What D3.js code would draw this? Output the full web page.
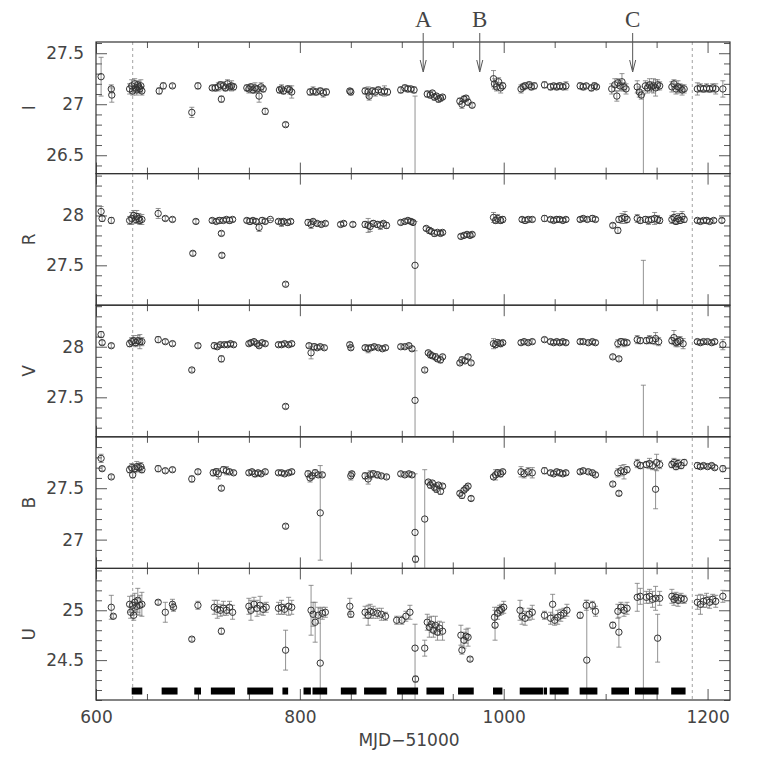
<!DOCTYPE html>
<html>
<head>
<meta charset="utf-8">
<script src="https://cdn.jsdelivr.net/npm/d3@7/dist/d3.min.js"></script>
<style>
body { margin: 0; background: #fff; }
svg text { font-family: "DejaVu Sans", sans-serif; fill: #444; }
.tick text { font-size: 17px; }
</style>
</head>
<body>
<script>
// band names, top to bottom
var bands = ["I", "R", "V", "B", "U"];
// y domain of each panel (mag)
var yDomains = [[26.32, 27.61], [27.10, 28.42], [27.11, 28.41], [26.72, 28.00], [24.10, 25.42]];
var yTickLabels = [[26.5, 27, 27.5], [27.5, 28], [27.5, 28], [27, 27.5], [24.5, 25]];
var xDomain = [600, 1222];
var xTickLabels = [600, 800, 1000, 1200];

// [MJD-51000, mag, err (up), err down (optional)]
var dataI = [
  [605, 27.27, 0.19], [615, 27.15, 0.04], [615.5, 27.09, 0.07],
  [633, 27.15, 0.05], [635, 27.18, 0.06], [636, 27.13, 0.04], [638, 27.20, 0.05], [639, 27.16, 0.04], [640, 27.14, 0.05], [641, 27.19, 0.04], [642, 27.17, 0.05], [643, 27.15, 0.04], [644, 27.18, 0.06], [645, 27.13, 0.04],
  [662, 27.13, 0.03], [666, 27.18, 0.03], [675, 27.18, 0.02],
  [694, 26.92, 0.05], [700, 27.18, 0.03],
  [714, 27.16, 0.02], [717, 27.16, 0.03], [720, 27.17, 0.04], [722, 27.19, 0.03], [723, 27.05, 0.03], [725, 27.18, 0.04], [727, 27.16, 0.03], [729, 27.20, 0.04], [731, 27.17, 0.03], [733, 27.18, 0.05], [735, 27.17, 0.03],
  [748, 27.16, 0.03], [750, 27.15, 0.04], [752, 27.17, 0.03], [754, 27.14, 0.03], [756, 27.16, 0.05], [758, 27.15, 0.03], [760, 27.08, 0.06], [762, 27.17, 0.04], [764, 27.15, 0.03], [766, 26.93, 0.03],
  [780, 27.14, 0.03], [782, 27.15, 0.04], [784, 27.13, 0.03], [786, 26.80, 0.02], [788, 27.15, 0.03], [790, 27.14, 0.04], [792, 27.12, 0.06],
  [810, 27.12, 0.03], [813, 27.13, 0.04], [816, 27.12, 0.03], [820, 27.13, 0.03], [823, 27.11, 0.04], [826, 27.12, 0.03],
  [849, 27.13, 0.02], [850, 27.12, 0.03],
  [864, 27.13, 0.03], [867, 27.12, 0.05], [868, 27.08, 0.04], [871, 27.13, 0.03], [874, 27.12, 0.04], [877, 27.14, 0.03], [880, 27.12, 0.03], [883, 27.13, 0.05], [886, 27.12, 0.03],
  [899, 27.14, 0.03], [903, 27.16, 0.03], [906, 27.15, 0.03], [909, 27.15, 0.02], [912, 27.14, 0.03],
  [913, 26.00, 1.08],
  [925, 27.10, 0.03], [928, 27.09, 0.03], [930, 27.11, 0.02], [932, 27.07, 0.03], [934, 27.08, 0.02], [936, 27.05, 0.03], [938, 27.06, 0.03], [940, 27.07, 0.02],
  [957, 27.03, 0.03], [959, 27.00, 0.04], [961, 27.05, 0.03], [963, 27.06, 0.02], [965, 27.02, 0.03], [969, 26.99, 0.02],
  [990, 27.25, 0.08], [991, 27.20, 0.05], [993, 27.17, 0.04], [995, 27.22, 0.04], [997, 27.16, 0.05], [999, 27.18, 0.03],
  [1017, 27.15, 0.04], [1019, 27.17, 0.03], [1021, 27.18, 0.03], [1025, 27.19, 0.03], [1027, 27.17, 0.03], [1030, 27.18, 0.03],
  [1040, 27.19, 0.03],
  [1046, 27.17, 0.03], [1049, 27.18, 0.02], [1052, 27.17, 0.03], [1055, 27.18, 0.03], [1058, 27.17, 0.02], [1061, 27.18, 0.04],
  [1075, 27.18, 0.03], [1078, 27.17, 0.03], [1081, 27.18, 0.02], [1086, 27.16, 0.03], [1089, 27.18, 0.03], [1091, 27.17, 0.02],
  [1106, 27.15, 0.05], [1109, 27.19, 0.06], [1111, 27.08, 0.05], [1112, 27.21, 0.04], [1114, 27.18, 0.05], [1116, 27.22, 0.08], [1118, 27.17, 0.04], [1120, 27.15, 0.05],
  [1131, 27.17, 0.06], [1133, 27.12, 0.05], [1135, 27.09, 0.04], [1137, 26.00, 1.10], [1139, 27.18, 0.05], [1141, 27.16, 0.05], [1143, 27.19, 0.06], [1145, 27.17, 0.05], [1147, 27.18, 0.07], [1149, 27.16, 0.08], [1151, 27.19, 0.05], [1153, 27.18, 0.04],
  [1165, 27.17, 0.05], [1167, 27.20, 0.04], [1169, 27.15, 0.05], [1171, 27.17, 0.06], [1173, 27.16, 0.04], [1175, 27.14, 0.05], [1177, 27.15, 0.04],
  [1190, 27.15, 0.06], [1193, 27.16, 0.04], [1196, 27.15, 0.03], [1199, 27.16, 0.04], [1202, 27.15, 0.03], [1205, 27.16, 0.04], [1208, 27.15, 0.05],
  [1215, 27.15, 0.08]
];

var dataR = [
  [605, 28.04, 0.05], [606, 27.97, 0.03], [615, 27.95, 0.03],
  [633, 27.95, 0.04], [635, 27.97, 0.06], [637, 28.00, 0.05], [639, 27.96, 0.04], [640, 27.99, 0.06], [642, 27.97, 0.05], [643, 27.95, 0.04], [645, 27.96, 0.05],
  [661, 28.02, 0.05], [668, 27.97, 0.02], [675, 27.96, 0.02],
  [695, 27.62, 0.02], [698, 27.94, 0.02],
  [714, 27.95, 0.02], [718, 27.94, 0.02], [721, 27.95, 0.03], [723, 27.82, 0.02], [723.5, 27.60, 0.02], [725, 27.95, 0.02], [728, 27.96, 0.02], [731, 27.95, 0.03], [734, 27.96, 0.02],
  [748, 27.95, 0.02], [751, 27.94, 0.03], [754, 27.95, 0.02], [757, 27.94, 0.02], [760, 27.88, 0.04], [763, 27.95, 0.03], [766, 27.94, 0.02], [771, 27.96, 0.01],
  [779, 27.94, 0.02], [782, 27.93, 0.04], [784, 27.94, 0.02], [786, 27.31, 0.02], [788, 27.93, 0.03], [791, 27.94, 0.02],
  [808, 27.93, 0.03], [811, 27.91, 0.04], [813, 27.94, 0.02], [817, 27.92, 0.02], [821, 27.91, 0.02], [825, 27.92, 0.02],
  [840, 27.91, 0.02], [843, 27.92, 0.02], [852, 27.91, 0.02],
  [864, 27.91, 0.03], [867, 27.90, 0.07], [869, 27.89, 0.05], [872, 27.92, 0.03], [876, 27.91, 0.03], [879, 27.90, 0.04], [882, 27.92, 0.02], [885, 27.90, 0.03],
  [899, 27.93, 0.02], [903, 27.94, 0.02], [906, 27.95, 0.02], [909, 27.94, 0.02], [911, 27.93, 0.02],
  [913, 27.50, 0.44, 0.60],
  [924, 27.87, 0.02], [927, 27.85, 0.03], [929, 27.84, 0.02], [932, 27.82, 0.03], [935, 27.83, 0.02], [938, 27.82, 0.02], [940, 27.83, 0.02],
  [958, 27.79, 0.02], [961, 27.80, 0.02], [964, 27.81, 0.02], [967, 27.80, 0.02], [969, 27.81, 0.02],
  [990, 27.98, 0.05], [992, 27.95, 0.03], [994, 27.97, 0.04], [997, 27.95, 0.03], [999, 27.96, 0.03],
  [1018, 27.96, 0.02], [1021, 27.95, 0.03], [1024, 27.96, 0.02], [1028, 27.96, 0.02],
  [1040, 27.97, 0.03],
  [1046, 27.96, 0.02], [1049, 27.95, 0.02], [1052, 27.96, 0.03], [1055, 27.96, 0.02], [1058, 27.95, 0.02], [1061, 27.96, 0.02],
  [1075, 27.96, 0.02], [1078, 27.97, 0.02], [1082, 27.96, 0.02], [1087, 27.97, 0.03], [1090, 27.96, 0.02],
  [1107, 27.90, 0.02], [1112, 27.85, 0.03], [1113, 27.96, 0.03], [1116, 27.97, 0.05], [1119, 27.98, 0.06], [1121, 27.96, 0.03],
  [1131, 27.97, 0.04], [1134, 27.95, 0.03], [1137, 26.90, 0.65], [1139, 27.96, 0.03], [1142, 27.95, 0.04], [1145, 27.96, 0.03], [1148, 27.97, 0.06], [1151, 27.96, 0.04], [1153, 27.95, 0.03],
  [1165, 27.96, 0.04], [1167, 27.98, 0.06], [1169, 27.94, 0.03], [1171, 27.97, 0.05], [1173, 27.95, 0.03], [1175, 27.99, 0.05], [1177, 27.96, 0.03],
  [1190, 27.95, 0.02], [1193, 27.94, 0.02], [1196, 27.95, 0.02], [1199, 27.95, 0.03], [1202, 27.94, 0.02], [1206, 27.95, 0.02], [1214, 27.95, 0.02]
];

var dataV = [
  [605, 28.12, 0.03], [606, 28.04, 0.02], [615, 28.01, 0.02],
  [633, 28.03, 0.03], [635, 28.05, 0.04], [637, 28.06, 0.05], [639, 28.04, 0.04], [641, 28.06, 0.05], [643, 28.05, 0.07], [645, 28.05, 0.04],
  [661, 28.07, 0.03], [668, 28.05, 0.02], [675, 28.03, 0.02],
  [694, 27.77, 0.02], [700, 28.01, 0.02],
  [716, 28.01, 0.03], [719, 28.00, 0.02], [722, 28.02, 0.02], [723, 27.88, 0.03], [726, 28.02, 0.02], [729, 28.02, 0.02], [732, 28.03, 0.02], [735, 28.02, 0.02],
  [750, 28.03, 0.02], [752, 28.04, 0.02], [755, 28.05, 0.02], [758, 28.03, 0.02], [760, 28.01, 0.02], [763, 28.04, 0.02], [766, 28.03, 0.02],
  [779, 28.02, 0.02], [782, 28.02, 0.02], [785, 28.03, 0.02], [786, 27.41, 0.02], [789, 28.02, 0.02], [792, 28.03, 0.02],
  [809, 28.01, 0.02], [811, 27.94, 0.06], [814, 28.00, 0.03], [817, 27.99, 0.02], [820, 28.00, 0.02], [824, 27.99, 0.02],
  [849, 28.02, 0.02], [850, 27.99, 0.02],
  [864, 27.99, 0.02], [867, 27.98, 0.04], [870, 27.99, 0.02], [873, 28.00, 0.02], [877, 27.99, 0.02], [881, 27.98, 0.02], [884, 27.99, 0.02],
  [899, 28.00, 0.02], [903, 28.00, 0.02], [907, 28.01, 0.02], [910, 27.98, 0.02],
  [913, 27.47, 0.49, 0.60],
  [922.5, 27.77, 0.02],
  [926, 27.94, 0.02], [928, 27.92, 0.03], [930, 27.91, 0.02], [933, 27.90, 0.03], [935, 27.88, 0.02], [938, 27.87, 0.03], [940, 27.90, 0.02],
  [957, 27.84, 0.02], [959, 27.87, 0.03], [962, 27.86, 0.02], [965, 27.90, 0.02], [968, 27.84, 0.02],
  [990, 28.03, 0.05], [992, 28.02, 0.03], [994, 28.04, 0.03], [997, 28.03, 0.03], [999, 28.04, 0.02],
  [1017, 28.04, 0.02], [1020, 28.05, 0.02], [1024, 28.04, 0.02], [1028, 28.05, 0.02],
  [1040, 28.07, 0.02],
  [1046, 28.05, 0.02], [1049, 28.04, 0.02], [1052, 28.05, 0.02], [1055, 28.04, 0.02], [1058, 28.05, 0.02], [1061, 28.04, 0.02],
  [1075, 28.05, 0.02], [1078, 28.05, 0.02], [1083, 28.04, 0.02], [1087, 28.05, 0.02], [1090, 28.04, 0.02],
  [1107, 27.90, 0.02], [1113, 27.88, 0.02], [1112, 28.03, 0.04], [1115, 28.05, 0.03], [1118, 28.04, 0.04], [1121, 28.04, 0.02],
  [1131, 28.07, 0.04], [1134, 28.06, 0.03], [1137, 26.90, 0.72], [1140, 28.06, 0.03], [1143, 28.07, 0.04], [1146, 28.06, 0.03], [1149, 28.08, 0.06], [1152, 28.05, 0.04],
  [1165, 28.06, 0.03], [1167, 28.09, 0.07], [1169, 28.04, 0.04], [1171, 28.05, 0.05], [1173, 28.06, 0.04], [1176, 28.03, 0.05],
  [1190, 28.05, 0.02], [1193, 28.04, 0.02], [1196, 28.05, 0.02], [1200, 28.05, 0.02], [1204, 28.04, 0.02], [1207, 28.05, 0.02], [1215, 28.02, 0.05]
];

var dataB = [
  [605, 27.79, 0.04], [606, 27.69, 0.02], [615, 27.61, 0.02],
  [633, 27.68, 0.03], [635, 27.70, 0.04], [636, 27.63, 0.03], [638, 27.69, 0.04], [640, 27.71, 0.05], [642, 27.70, 0.04], [644, 27.71, 0.04], [645, 27.68, 0.03],
  [661, 27.69, 0.03], [668, 27.67, 0.02], [675, 27.68, 0.02],
  [694, 27.59, 0.03], [700, 27.66, 0.02],
  [715, 27.65, 0.03], [718, 27.66, 0.03], [720, 27.64, 0.05], [723, 27.50, 0.02], [725, 27.68, 0.03], [728, 27.67, 0.04], [731, 27.66, 0.02], [735, 27.65, 0.02],
  [750, 27.65, 0.02], [753, 27.66, 0.02], [756, 27.64, 0.03], [759, 27.65, 0.02], [762, 27.64, 0.02], [766, 27.66, 0.02],
  [779, 27.65, 0.02], [782, 27.65, 0.02], [785, 27.64, 0.02], [786, 27.13, 0.02], [789, 27.65, 0.02], [792, 27.66, 0.02],
  [808, 27.64, 0.03], [810, 27.60, 0.04], [812, 27.62, 0.03], [815, 27.65, 0.03], [818, 27.63, 0.02], [820, 27.26, 0.46], [822, 27.63, 0.02],
  [850, 27.62, 0.04], [851, 27.64, 0.02],
  [864, 27.62, 0.03], [867, 27.59, 0.05], [869, 27.63, 0.04], [872, 27.64, 0.03], [876, 27.63, 0.03], [880, 27.62, 0.02], [885, 27.61, 0.02],
  [899, 27.64, 0.02], [903, 27.63, 0.02], [907, 27.64, 0.02], [910, 27.63, 0.02],
  [913, 27.07, 0.57, 0.60], [913.5, 26.81, 0.03],
  [922.5, 27.20, 0.48, 0.60],
  [926, 27.56, 0.02], [928, 27.53, 0.03], [930, 27.55, 0.02], [932, 27.51, 0.03], [934, 27.49, 0.03], [936, 27.53, 0.02], [938, 27.47, 0.03], [940, 27.52, 0.02],
  [957, 27.45, 0.02], [959, 27.43, 0.03], [961, 27.48, 0.02], [963, 27.50, 0.02], [965, 27.52, 0.02], [968, 27.40, 0.02],
  [990, 27.61, 0.02], [992, 27.63, 0.05], [994, 27.65, 0.03], [997, 27.64, 0.03], [999, 27.66, 0.02],
  [1017, 27.66, 0.05], [1020, 27.64, 0.04], [1024, 27.66, 0.04], [1028, 27.65, 0.05],
  [1040, 27.67, 0.03],
  [1046, 27.65, 0.02], [1049, 27.64, 0.02], [1052, 27.66, 0.02], [1055, 27.65, 0.03], [1058, 27.64, 0.02], [1061, 27.65, 0.02],
  [1075, 27.66, 0.02], [1078, 27.67, 0.02], [1083, 27.66, 0.02], [1087, 27.65, 0.02], [1090, 27.63, 0.02],
  [1107, 27.54, 0.02], [1113, 27.45, 0.02], [1112, 27.65, 0.04], [1115, 27.67, 0.05], [1118, 27.66, 0.07], [1121, 27.68, 0.03],
  [1131, 27.74, 0.04], [1134, 27.72, 0.03], [1137, 26.20, 1.55], [1140, 27.73, 0.03], [1143, 27.74, 0.05], [1146, 27.72, 0.04], [1149, 27.49, 0.19], [1150, 27.75, 0.08], [1153, 27.73, 0.04],
  [1165, 27.73, 0.03], [1167, 27.75, 0.04], [1169, 27.71, 0.03], [1171, 27.74, 0.04], [1174, 27.72, 0.03], [1177, 27.75, 0.03],
  [1190, 27.72, 0.03], [1193, 27.71, 0.02], [1196, 27.72, 0.02], [1200, 27.71, 0.02], [1204, 27.72, 0.02], [1207, 27.70, 0.02], [1215, 27.69, 0.03]
];

var dataU = [
  [615, 25.03, 0.12], [617, 24.94, 0.02],
  [633, 25.06, 0.08], [634, 24.98, 0.06], [636, 25.05, 0.10], [637, 24.95, 0.05], [638, 25.08, 0.09], [640, 25.04, 0.08], [641, 25.10, 0.12], [643, 25.05, 0.10], [645, 25.06, 0.12],
  [661, 25.08, 0.02], [668, 24.98, 0.10], [675, 25.06, 0.05], [676, 25.03, 0.04],
  [694, 24.71, 0.02], [700, 25.05, 0.04],
  [716, 25.03, 0.07], [719, 25.01, 0.09], [722, 25.00, 0.06], [723, 24.79, 0.03], [725, 25.02, 0.07], [728, 25.00, 0.05], [731, 25.03, 0.06], [734, 24.98, 0.07],
  [750, 25.04, 0.08], [752, 25.00, 0.10], [755, 25.06, 0.07], [758, 25.02, 0.08], [761, 25.05, 0.09], [764, 25.01, 0.06], [767, 25.03, 0.05],
  [779, 25.02, 0.06], [782, 25.03, 0.07], [785, 25.01, 0.05], [786, 24.60, 0.20], [789, 25.04, 0.09], [792, 25.03, 0.07],
  [811, 25.00, 0.25], [813, 24.96, 0.12], [815, 24.88, 0.20], [818, 24.95, 0.08], [820, 24.47, 0.55, 0.60], [822, 24.97, 0.06], [825, 24.98, 0.05],
  [849, 25.04, 0.08], [850, 24.96, 0.03],
  [864, 24.98, 0.06], [867, 24.95, 0.10], [869, 24.99, 0.07], [872, 24.98, 0.06], [876, 24.97, 0.05], [880, 24.96, 0.06], [884, 24.94, 0.04],
  [895, 24.90, 0.04], [900, 24.90, 0.04], [904, 24.94, 0.05], [908, 24.98, 0.07],
  [913, 24.62, 0.24, 0.60], [913.5, 24.31, 0.03],
  [922.5, 24.62, 0.08],
  [925, 24.88, 0.08], [927, 24.83, 0.10], [929, 24.86, 0.08], [931, 24.80, 0.07], [933, 24.85, 0.09], [935, 24.78, 0.08], [937, 24.82, 0.07], [940, 24.79, 0.09],
  [958, 24.75, 0.10], [959, 24.60, 0.04], [961, 24.70, 0.08], [963, 24.74, 0.07], [965, 24.73, 0.09], [967, 24.51, 0.02],
  [991, 24.93, 0.10], [991.5, 24.85, 0.15], [994, 24.97, 0.06], [996, 25.00, 0.05], [998, 25.01, 0.05], [1000, 25.03, 0.06],
  [1016, 25.00, 0.10], [1018, 24.94, 0.08], [1021, 24.92, 0.07], [1025, 24.96, 0.06], [1028, 24.98, 0.07],
  [1040, 24.95, 0.04], [1048, 25.06, 0.10],
  [1046, 24.92, 0.06], [1050, 24.90, 0.05], [1053, 24.93, 0.07], [1056, 24.95, 0.06], [1059, 24.97, 0.05], [1062, 25.00, 0.06],
  [1075, 24.95, 0.03], [1081, 25.05, 0.05], [1081.5, 24.50, 0.60, 0.60], [1087, 25.05, 0.04], [1090, 24.99, 0.05],
  [1107, 24.85, 0.03], [1113, 24.78, 0.15], [1112, 24.99, 0.07], [1115, 25.03, 0.05], [1118, 25.00, 0.06], [1121, 25.02, 0.06],
  [1131, 25.13, 0.14], [1134, 25.14, 0.08], [1137, 23.50, 2.00], [1140, 25.13, 0.06], [1143, 25.14, 0.07], [1146, 25.11, 0.08], [1149, 25.12, 0.12], [1151, 24.72, 0.24], [1153, 25.12, 0.07],
  [1165, 25.14, 0.07], [1167, 25.11, 0.06], [1169, 25.13, 0.05], [1171, 25.10, 0.06], [1174, 25.12, 0.05], [1177, 25.11, 0.04],
  [1190, 25.08, 0.07], [1193, 25.06, 0.10], [1196, 25.09, 0.06], [1199, 25.10, 0.07], [1202, 25.08, 0.06], [1205, 25.11, 0.05], [1208, 25.09, 0.06], [1215, 25.14, 0.06]
];

// observing windows drawn as black bars at the foot of the U panel [start, end]
var windows = [
  [635, 645.4], [664.4, 680], [696.4, 703], [712.7, 736.3], [748.4, 773.8], [782.9, 788.5],
  [803.6, 810.8], [812.4, 826.8], [840.2, 855.6], [863, 885], [895.4, 916], [924.2, 941.5],
  [955.2, 970.6], [989.5, 998.7], [1015.7, 1038.5], [1039.2, 1042.5], [1045.1, 1063.7],
  [1074.5, 1091.9], [1105.6, 1122.9], [1128.7, 1151.9], [1164.3, 1178.4]
];
var windowMag = 24.19;

// dashed verticals and labelled arrows
var dashedMJD = [636, 1185];
var arrowLabels = ["A", "B", "C"];
var arrowMJD = [921, 976.5, 1126.5];

var allData = [dataI, dataR, dataV, dataB, dataU];

var W = 771, H = 771;
var margin = {top: 42, right: 41, bottom: 71, left: 96};
var plotW = W - margin.left - margin.right;
var panelH = (H - margin.top - margin.bottom) / bands.length;

var svg = d3.select("body").append("svg")
    .attr("width", W)
    .attr("height", H);

var x = d3.scaleLinear().domain(xDomain).range([0, plotW]);

var xMinor = d3.range(600, xDomain[1], 50).filter(function(v) { return v % 200 !== 0; });

var root = svg.append("g")
    .attr("transform", "translate(" + margin.left + "," + margin.top + ")");

// dashed lines through all panels
root.selectAll(".dash")
    .data(dashedMJD)
  .enter().append("line")
    .attr("x1", function(d) { return x(d); })
    .attr("x2", function(d) { return x(d); })
    .attr("y1", 0)
    .attr("y2", panelH * bands.length)
    .style("stroke", "#999")
    .style("stroke-width", 0.9)
    .style("stroke-dasharray", "3,3");

bands.forEach(function(band, i) {
  var y = d3.scaleLinear().domain(yDomains[i]).range([panelH, 0]);
  var g = root.append("g")
      .attr("transform", "translate(0," + (i * panelH) + ")");

  g.append("clipPath").attr("id", "clip" + i)
    .append("rect").attr("width", plotW).attr("height", panelH);

  var lo = yDomains[i][0], hi = yDomains[i][1];
  var yMinor = d3.range(Math.ceil(lo * 10), Math.floor(hi * 10) + 1)
      .map(function(v) { return v / 10; })
      .filter(function(v) { return Math.abs(v * 2 - Math.round(v * 2)) > 1e-6; });

  // ticks, all pointing inward
  function styleAxis(sel) {
    sel.style("color", "#444");
    sel.select(".domain").remove();
    sel.selectAll("line").style("stroke-width", 0.9);
  }
  g.append("g").attr("transform", "translate(0," + panelH + ")")
      .call(d3.axisBottom(x).tickValues(xTickLabels).tickSize(-11).tickPadding(11)
        .tickFormat(i === bands.length - 1 ? d3.format("d") : ""))
      .call(styleAxis);
  g.append("g").attr("transform", "translate(0," + panelH + ")")
      .call(d3.axisBottom(x).tickValues(xMinor).tickSize(-6).tickFormat(""))
      .call(styleAxis);
  g.append("g")
      .call(d3.axisTop(x).tickValues(xTickLabels).tickSize(-11).tickFormat(""))
      .call(styleAxis);
  g.append("g")
      .call(d3.axisTop(x).tickValues(xMinor).tickSize(-6).tickFormat(""))
      .call(styleAxis);
  g.append("g")
      .call(d3.axisLeft(y).tickValues(yTickLabels[i]).tickSize(-11).tickPadding(12)
        .tickFormat(function(d) { return String(d); }))
      .call(styleAxis);
  g.append("g")
      .call(d3.axisLeft(y).tickValues(yMinor).tickSize(-6).tickFormat(""))
      .call(styleAxis);
  g.append("g").attr("transform", "translate(" + plotW + ",0)")
      .call(d3.axisRight(y).tickValues(yTickLabels[i]).tickSize(-11).tickFormat(""))
      .call(styleAxis);
  g.append("g").attr("transform", "translate(" + plotW + ",0)")
      .call(d3.axisRight(y).tickValues(yMinor).tickSize(-6).tickFormat(""))
      .call(styleAxis);

  // frame
  g.append("rect")
      .attr("width", plotW)
      .attr("height", panelH)
      .style("fill", "none")
      .style("stroke", "#333")
      .style("stroke-width", 1.2);

  // band label, rotated, left of the tick labels
  g.append("text")
      .attr("transform", "translate(" + (29 - margin.left) + "," + (panelH / 2) + ") rotate(-90)")
      .attr("text-anchor", "middle")
      .attr("dy", "0.35em")
      .style("font-size", "17px")
      .text(band);

  var plot = g.append("g").attr("clip-path", "url(#clip" + i + ")");

  var pts = allData[i];
  // error bars
  var eb = plot.selectAll(".eb").data(pts).enter().append("g");
  eb.append("line")
      .attr("x1", function(d) { return x(d[0]); })
      .attr("x2", function(d) { return x(d[0]); })
      .attr("y1", function(d) { return y(d[1] + d[2]); })
      .attr("y2", function(d) { return y(d[1] - (d.length > 3 ? d[3] : d[2])); });
  eb.append("line")
      .attr("x1", function(d) { return x(d[0]) - 2.5; })
      .attr("x2", function(d) { return x(d[0]) + 2.5; })
      .attr("y1", function(d) { return y(d[1] + d[2]); })
      .attr("y2", function(d) { return y(d[1] + d[2]); });
  eb.append("line")
      .attr("x1", function(d) { return x(d[0]) - 2.5; })
      .attr("x2", function(d) { return x(d[0]) + 2.5; })
      .attr("y1", function(d) { return y(d[1] - (d.length > 3 ? d[3] : d[2])); })
      .attr("y2", function(d) { return y(d[1] - (d.length > 3 ? d[3] : d[2])); });
  eb.selectAll("line")
      .style("stroke", "#777")
      .style("stroke-width", 0.8);

  // open circles
  plot.selectAll(".pt").data(pts).enter().append("circle")
      .attr("cx", function(d) { return x(d[0]); })
      .attr("cy", function(d) { return y(d[1]); })
      .attr("r", 3.2)
      .style("fill", "none")
      .style("stroke", "#333")
      .style("stroke-width", 1);

  if (band === "U") {
    plot.selectAll(".win").data(windows).enter().append("rect")
        .attr("x", function(d) { return x(d[0]); })
        .attr("width", function(d) { return x(d[1]) - x(d[0]); })
        .attr("y", y(windowMag) - 3.5)
        .attr("height", 7)
        .style("fill", "#000");
  }
});

// arrows with labels above the top panel
var arr = root.selectAll(".arrow")
    .data(arrowMJD)
  .enter().append("g")
    .attr("transform", function(d) { return "translate(" + x(d) + ",0)"; });
arr.append("line")
    .attr("y1", -9)
    .attr("y2", 28)
    .style("stroke", "#555")
    .style("stroke-width", 1);
arr.append("path")
    .attr("d", "M-3,18 L0,30 L3,18")
    .style("fill", "none")
    .style("stroke", "#555")
    .style("stroke-width", 1);
arr.append("text")
    .attr("y", -15)
    .attr("text-anchor", "middle")
    .style("font-family", "'Liberation Serif', 'DejaVu Serif', serif")
    .style("font-size", "23px")
    .text(function(d, i) { return arrowLabels[i]; });

// x axis label
svg.append("text")
    .attr("x", margin.left + plotW / 2 - 4)
    .attr("y", 746)
    .attr("text-anchor", "middle")
    .style("font-size", "17px")
    .text("MJD\u221251000");
</script>
</body>
</html>
